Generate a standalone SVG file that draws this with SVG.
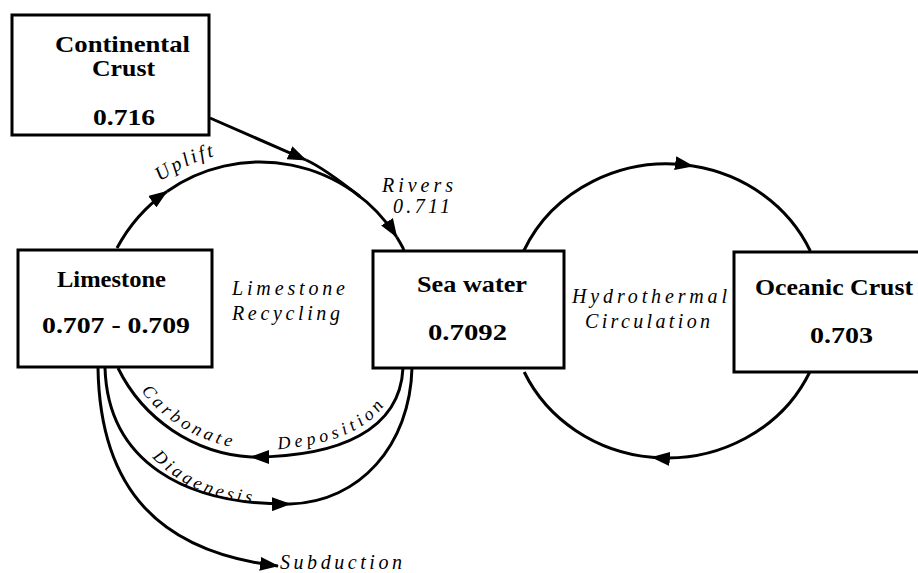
<svg xmlns="http://www.w3.org/2000/svg" width="918" height="573" viewBox="0 0 918 573">
<style>
.box{fill:#fff;stroke:#000;stroke-width:3}
.nt{font-family:"Liberation Serif","Times New Roman",serif;font-weight:bold;font-size:24px;fill:#000;text-anchor:middle}
.lb{font-family:"Liberation Serif","Times New Roman",serif;font-style:italic;font-size:20px;fill:#000}
.cl{font-size:18px}
.ln{fill:none;stroke:#000;stroke-width:3}
.ar{marker-end:url(#ah)}
</style>
<defs>
<marker id="ah" markerUnits="userSpaceOnUse" viewBox="0 0 19 14" refX="18" refY="7" markerWidth="19" markerHeight="14" orient="auto">
<path d="M0,0 L19,7 L0,14 z" fill="#000"/>
</marker>
<path id="tp-uplift" d="M160,181.6 A174,174 0 0 1 228,153"/>
<path id="tp-carb" d="M141,391 A152,152 0 0 0 262,449.6"/>
<path id="tp-depo" d="M251,450 C337,450 393,424 396,370"/>
<path id="tp-diag" d="M152,457 C181,488 220,502 266,504"/>
</defs>
<g id="connectors">
<path class="ln ar" d="M117,248 A162,162 0 0 1 167,191.4"/>
<path class="ln ar" d="M167,191.4 A162,162 0 0 1 396.7,237"/>
<path class="ln" d="M396.7,237 A162,162 0 0 1 403,248 L404,251"/>
<path class="ln ar" d="M210,118 L306,160"/>
<path class="ln" d="M306,160 Q322.7,167.3 360,196.5"/>
<path class="ln ar" d="M523.7,251 A157,147 0 0 1 693,166"/>
<path class="ln" d="M693,166 A157,147 0 0 1 810.3,251"/>
<path class="ln ar" d="M809.8,372 A157,147 0 0 1 652,457.3"/>
<path class="ln" d="M652,457.3 A157,147 0 0 1 524.2,372"/>
<path class="ln ar" d="M403,368 C400,430 340,457 251,457"/>
<path class="ln" d="M251,457 A159.4,159.4 0 0 1 118,368"/>
<path class="ln ar" d="M105,368 C108,462 185,505 290,504"/>
<path class="ln" d="M290,504 C360,502 410,445 412,368"/>
<path class="ln ar" d="M98,368 C100,490 160,552 278,566"/>
</g>
<g id="labels">
<text class="lb"><textPath href="#tp-uplift" textLength="60">Uplift</textPath></text>
<text class="lb" x="382" y="192" textLength="71">Rivers</text>
<text class="lb" x="393" y="213" textLength="57">0.711</text>
<text class="lb" x="232" y="295" textLength="113">Limestone</text>
<text class="lb" x="232" y="320" textLength="108">Recycling</text>
<text class="lb" x="572" y="303" textLength="155">Hydrothermal</text>
<text class="lb" x="585" y="328" textLength="125">Circulation</text>
<text class="lb cl"><textPath href="#tp-carb" textLength="108">Carbonate</textPath></text>
<text class="lb cl"><textPath href="#tp-depo" startOffset="27" textLength="118">Deposition</textPath></text>
<text class="lb cl"><textPath href="#tp-diag" textLength="112">Diagenesis</textPath></text>
<text class="lb" x="280" y="569" textLength="122">Subduction</text>
</g>
<g id="continental-crust">
<rect class="box" x="12" y="15" width="197" height="120"/>
<text class="nt" x="122.5" y="52" textLength="135" lengthAdjust="spacingAndGlyphs">Continental</text>
<text class="nt" x="123.5" y="76" textLength="63" lengthAdjust="spacingAndGlyphs">Crust</text>
<text class="nt" x="124" y="125" textLength="62" lengthAdjust="spacingAndGlyphs">0.716</text>
</g>
<g id="limestone">
<rect class="box" x="18" y="250" width="194" height="117"/>
<text class="nt" x="111.5" y="287" textLength="109" lengthAdjust="spacingAndGlyphs">Limestone</text>
<text class="nt" x="116" y="333" textLength="148" lengthAdjust="spacingAndGlyphs">0.707 - 0.709</text>
</g>
<g id="sea-water">
<rect class="box" x="373" y="251" width="191" height="117"/>
<text class="nt" x="472" y="292" textLength="110" lengthAdjust="spacingAndGlyphs">Sea water</text>
<text class="nt" x="467.5" y="340" textLength="79" lengthAdjust="spacingAndGlyphs">0.7092</text>
</g>
<g id="oceanic-crust">
<rect class="box" x="734" y="252" width="200" height="120"/>
<text class="nt" x="834" y="295" textLength="158" lengthAdjust="spacingAndGlyphs">Oceanic Crust</text>
<text class="nt" x="841.5" y="343" textLength="63" lengthAdjust="spacingAndGlyphs">0.703</text>
</g>
</svg>
